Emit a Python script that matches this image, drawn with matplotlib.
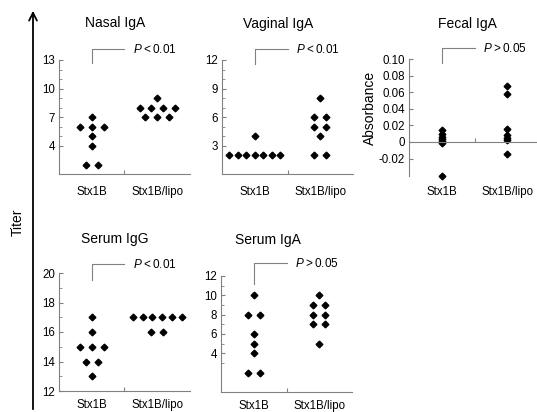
import matplotlib
matplotlib.use("Agg")
import matplotlib.pyplot as plt
import numpy as np
from matplotlib.transforms import blended_transform_factory
from matplotlib.patches import FancyArrowPatch
from matplotlib.ticker import FixedLocator

plt.rcParams['font.family'] = ['Liberation Sans', 'DejaVu Sans']
plt.rcParams['mathtext.fontset'] = 'custom'
plt.rcParams['mathtext.it'] = 'Liberation Sans:italic'
plt.rcParams['mathtext.rm'] = 'Liberation Sans'

# ---------------- data ----------------
groups = ["Stx1B", "Stx1B/lipo"]

nasal_stx = [7, 6, 6, 6, 5, 4, 2, 2]
nasal_lipo = [9, 8, 8, 8, 8, 7, 7, 7]
vag_stx = [4, 2, 2, 2, 2, 2, 2, 2]
vag_lipo = [8, 6, 6, 5, 5, 4, 2, 2]
fecal_stx = [0.014, 0.010, 0.006, 0.003, 0.001, -0.001, -0.041]
fecal_lipo = [0.067, 0.058, 0.016, 0.008, 0.005, 0.002, -0.014]
igg_stx = [17, 16, 15, 15, 15, 14, 14, 13]
igg_lipo = [17, 17, 17, 17, 17, 17, 16, 16]
iga_stx = [10, 8, 8, 6, 5, 4, 2, 2]
iga_lipo = [10, 9, 9, 8, 8, 7, 7, 5]

titles = ["Nasal IgA", "Vaginal IgA", "Fecal IgA", "Serum IgG", "Serum IgA"]
pvals = ["<0.01", "<0.01", ">0.05", "<0.01", ">0.05"]

nasal_ticks = [4, 7, 10, 13]
vag_ticks = [3, 6, 9, 12]
fecal_ticks = [-0.02, 0, 0.02, 0.04, 0.06, 0.08, 0.10]
fecal_ticklabels = ["-0.02", "0", "0.02", "0.04", "0.06", "0.08", "0.10"]
igg_ticks = [12, 14, 16, 18, 20]
iga_ticks = [4, 6, 8, 10, 12]

# ---------------- layout ----------------
W, H = 537, 412
fig = plt.figure(figsize=(W / 100, H / 100), dpi=100)

def px_axes(left, top, right, bottom):
    return fig.add_axes([left / W, 1 - bottom / H, (right - left) / W, (bottom - top) / H])

GRAY = '#808080'

def swarm(values, spread=True):
    vals = np.asarray(values, dtype=float)
    offs = np.zeros(len(vals))
    if spread:
        for v in np.unique(vals):
            idx = np.where(vals == v)[0]
            n = len(idx)
            sp = min(0.18, 0.9 / n)
            offs[idx] = (np.arange(n) - (n - 1) / 2) * sp
    return offs

def style_axes(ax, ylim, ticks, minor=None, ticklabels=None, zero_spine=False):
    ax.set_xlim(0, 2)
    ax.set_ylim(*ylim)
    for s in ['top', 'right']:
        ax.spines[s].set_visible(False)
    for s in ['left', 'bottom']:
        ax.spines[s].set_color(GRAY)
        ax.spines[s].set_linewidth(0.8)
    if zero_spine:
        ax.spines['bottom'].set_position(('data', 0))
    ax.set_yticks(ticks)
    if ticklabels is not None:
        ax.set_yticklabels(ticklabels)
    if minor is not None:
        ax.yaxis.set_minor_locator(FixedLocator(minor))
    ax.set_xticks([1])
    ax.set_xticklabels([])
    ax.tick_params(axis='both', which='major', direction='in', length=3,
                   color=GRAY, labelsize=8.3, pad=3)
    ax.tick_params(axis='both', which='minor', direction='in', length=2, color=GRAY)
    ax.patch.set_alpha(0)

def draw_panel(ax, stx, lipo, spread=True):
    for i, vals in enumerate([stx, lipo]):
        x = (i + 0.5) + swarm(vals, spread)
        ax.plot(x, vals, linestyle='none', marker='D', markersize=3.4,
                color='black', clip_on=False)

def bracket(ax, ptxt, ytop, ybot):
    tr = blended_transform_factory(ax.transData, ax.transAxes)
    ax.plot([0.5, 0.5, 1.0], [ybot, ytop, ytop], color=GRAY, lw=0.8,
             transform=tr, clip_on=False)
    ax.text(1.13, ytop, r"$\mathit{P}$" + "\u2009" + ptxt[0] + "\u2009" + ptxt[1:],
            transform=tr, ha='left', va='center', fontsize=8.5)

def xlabels(ax, ypix):
    tr = blended_transform_factory(ax.transData, fig.transFigure)
    for i, g in enumerate(groups):
        ax.text(i + 0.5, 1 - ypix / H, g, transform=tr, ha='center',
                va='center', fontsize=8.3)

# Nasal IgA
ax1 = px_axes(59, 60, 190, 174)
style_axes(ax1, (1, 13), nasal_ticks, minor=list(range(4, 14)))
draw_panel(ax1, nasal_stx, nasal_lipo)
bracket(ax1, pvals[0], 1.096, 0.97)
xlabels(ax1, 192)

# Vaginal IgA
ax2 = px_axes(222, 60, 353, 174)
style_axes(ax2, (0, 12), vag_ticks, minor=list(range(3, 13)))
draw_panel(ax2, vag_stx, vag_lipo)
bracket(ax2, pvals[1], 1.096, 0.965)
xlabels(ax2, 192)

# Fecal IgA
ax3 = px_axes(409, 59, 540, 176)
style_axes(ax3, (-0.041, 0.10), fecal_ticks, ticklabels=fecal_ticklabels,
           zero_spine=True)
draw_panel(ax3, fecal_stx, fecal_lipo, spread=False)
bracket(ax3, pvals[2], 1.094, 0.966)
xlabels(ax3, 192)
fig.text(370 / W, 1 - 108 / H, "Absorbance", rotation=90, ha='center',
         va='center', fontsize=10)

# Serum IgG
ax4 = px_axes(59, 273, 190, 391)
style_axes(ax4, (12, 20), igg_ticks, minor=[13, 15, 17, 19])
draw_panel(ax4, igg_stx, igg_lipo)
bracket(ax4, pvals[3], 1.076, 0.94)
xlabels(ax4, 405)

# Serum IgA
ax5 = px_axes(221, 276, 352, 392)
style_axes(ax5, (0, 12), iga_ticks, minor=[3, 5, 7, 9, 11])
draw_panel(ax5, iga_stx, iga_lipo)
bracket(ax5, pvals[4], 1.11, 0.93)
xlabels(ax5, 406)

# Titles
title_pos = [(115, 27), (278, 28), (467, 28), (115, 243), (268, 244)]
for t, (xp, yp) in zip(titles, title_pos):
    fig.text(xp / W, 1 - yp / H, t, ha='center', va='baseline', fontsize=10)

# Titer arrow
arrow = FancyArrowPatch((33 / W, 0), (33 / W, 1 - 8 / H), transform=fig.transFigure,
                        arrowstyle='->', mutation_scale=14, lw=1.3, color='black')
fig.add_artist(arrow)
fig.text(18 / W, 1 - 222 / H, "Titer", rotation=90, ha='center', va='center',
         fontsize=10)

fig.savefig("out.png", dpi=100)
